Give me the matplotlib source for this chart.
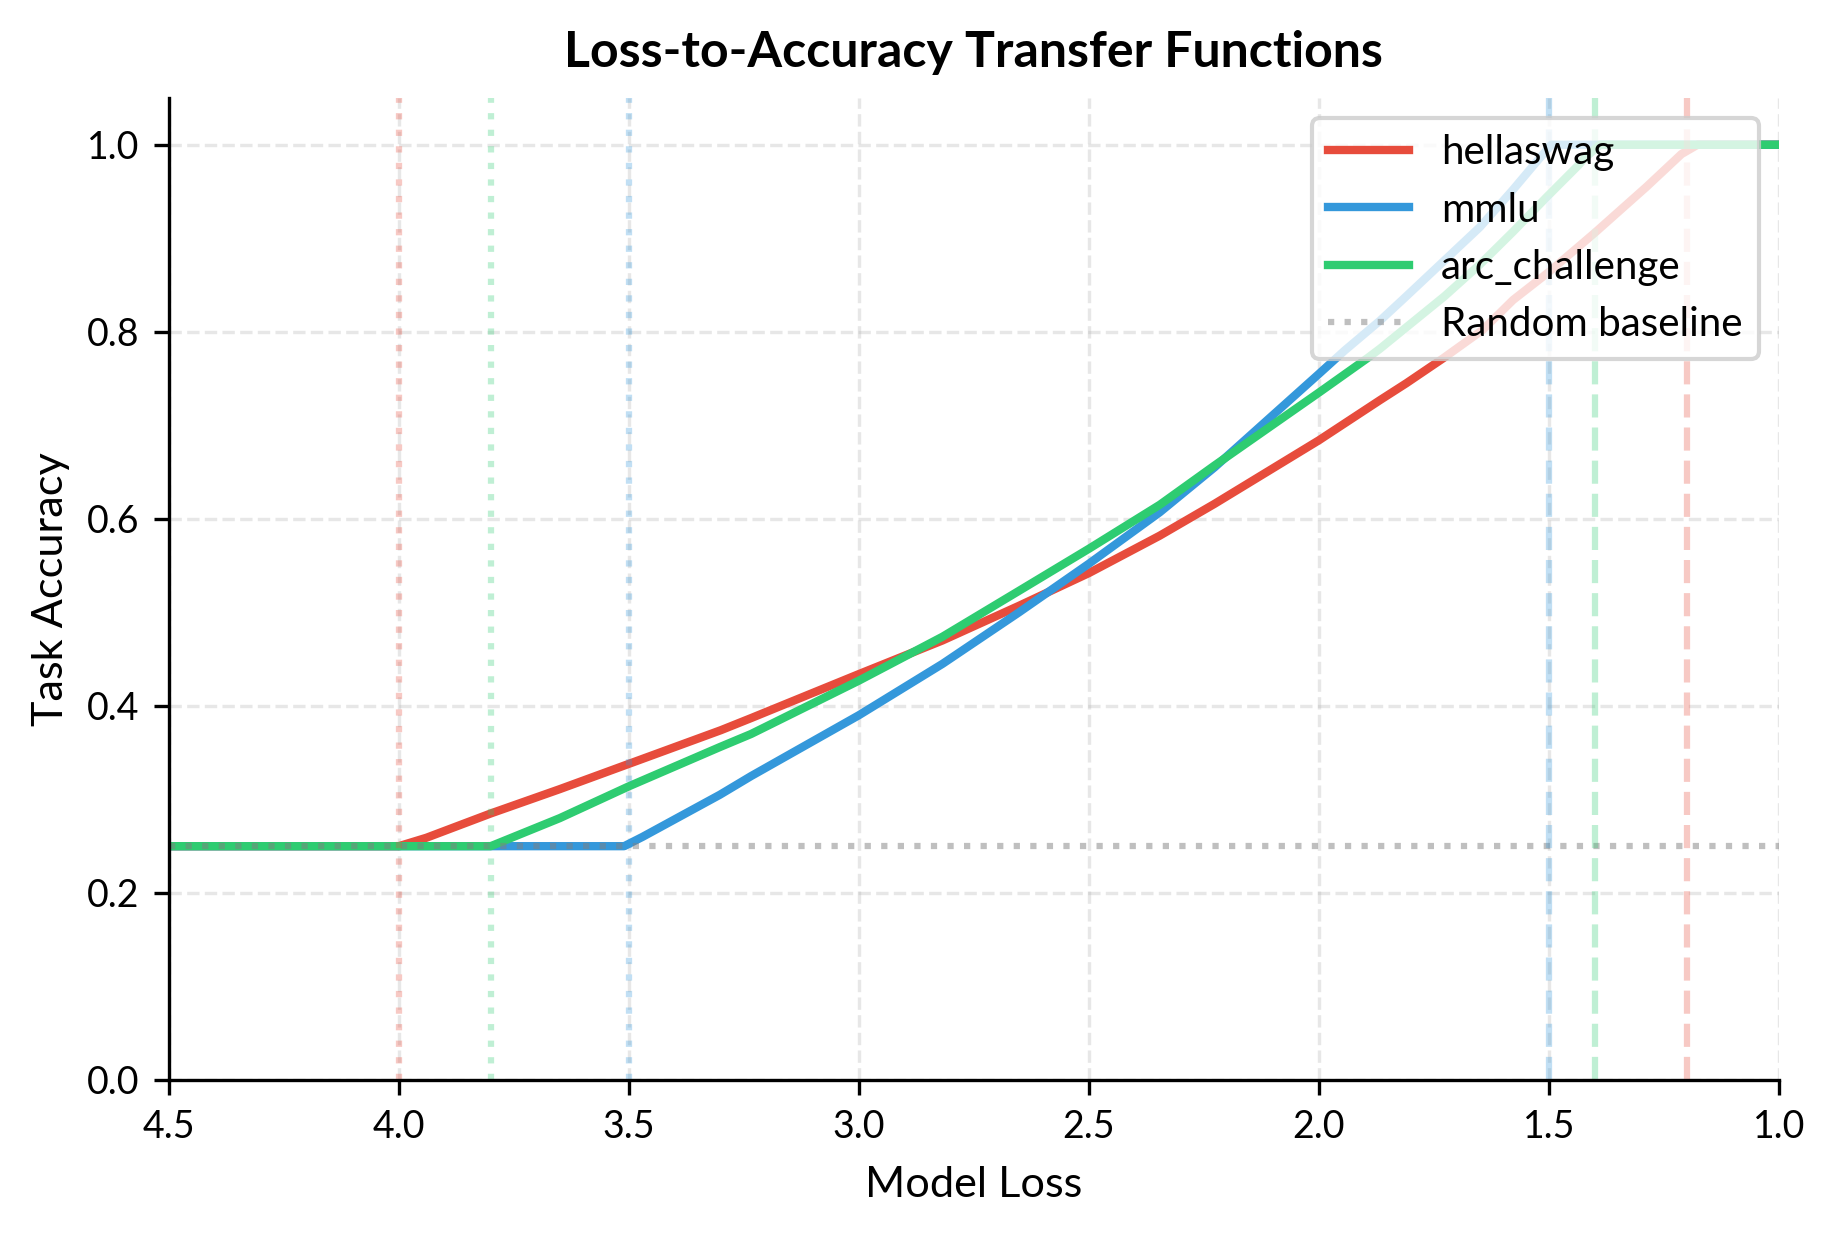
import numpy as np
import matplotlib
matplotlib.use("Agg")
import matplotlib.pyplot as plt

plt.rcParams['font.family'] = ['Lato', 'DejaVu Sans']

# --- Data ---
random_baseline = 0.25

hellaswag_loss = [4.5, 4.0, 3.94, 3.8, 3.65, 3.5, 3.3, 3.234, 3.0, 2.818, 2.652, 2.5,
                  2.346, 2.227, 2.0, 1.867, 1.81, 1.729, 1.644, 1.578, 1.5, 1.4,
                  1.288, 1.212, 1.177, 1.0]
hellaswag_acc = [0.25, 0.25, 0.259, 0.285, 0.311, 0.338, 0.374, 0.387, 0.434, 0.470, 0.507, 0.542,
                 0.582, 0.616, 0.684, 0.727, 0.745, 0.772, 0.802, 0.834, 0.864, 0.906,
                 0.955, 0.99, 1.0, 1.0]

mmlu_loss = [4.5, 3.51, 3.47, 3.302, 3.234, 3.0, 2.818, 2.652, 2.5, 2.346, 2.227, 2.0,
             1.944, 1.867, 1.81, 1.65, 1.578, 1.53, 1.495, 1.0]
mmlu_acc = [0.25, 0.25, 0.26, 0.305, 0.325, 0.390, 0.445, 0.50, 0.552, 0.607, 0.655, 0.755,
            0.78, 0.812, 0.838, 0.912, 0.952, 0.98, 1.0, 1.0]

arc_loss = [4.5, 3.8, 3.65, 3.5, 3.302, 3.234, 3.0, 2.818, 2.652, 2.5, 2.346, 2.227, 2.0,
            1.894, 1.867, 1.727, 1.65, 1.578, 1.505, 1.436, 1.424, 1.389, 1.0]
arc_acc = [0.25, 0.25, 0.280, 0.314, 0.356, 0.370, 0.427, 0.474, 0.523, 0.568, 0.615, 0.657, 0.735,
           0.772, 0.782, 0.838, 0.872, 0.907, 0.944, 0.978, 0.985, 1.0, 1.0]

tasks = ['hellaswag', 'mmlu', 'arc_challenge']
colors = ['#e74c3c', '#3498db', '#2ecc71']
emergence_loss = [4.0, 3.5, 3.8]    # dotted markers
saturation_loss = [1.2, 1.5, 1.4]   # dashed markers

curves = [(hellaswag_loss, hellaswag_acc), (mmlu_loss, mmlu_acc), (arc_loss, arc_acc)]

# --- Plot ---
fig = plt.figure(figsize=(1834 / 300, 1234 / 300), dpi=300)
ax = fig.add_axes([0.092, 0.1248, 0.878, 0.7958])

for name, color, (x, y) in zip(tasks, colors, curves):
    ax.plot(x, y, color=color, linewidth=2.0, label=name)

ax.axhline(random_baseline, color='gray', linestyle=':', linewidth=1.5, alpha=0.5,
           label='Random baseline')

for color, lo, hi in zip(colors, emergence_loss, saturation_loss):
    ax.axvline(lo, color=color, linestyle=':', linewidth=1.5, alpha=0.3)
    ax.axvline(hi, color=color, linestyle='--', linewidth=1.5, alpha=0.3)

ax.set_xlim(4.5, 1.0)
ax.set_ylim(0, 1.05)
ax.set_xticks(np.arange(4.5, 0.99, -0.5))
ax.set_yticks([0.0, 0.2, 0.4, 0.6, 0.8, 1.0])
ax.tick_params(labelsize=9)
ax.set_xlabel('Model Loss', fontsize=10.4, labelpad=5)
ax.set_ylabel('Task Accuracy', fontsize=10.4)
ax.set_title('Loss-to-Accuracy Transfer Functions', fontsize=12, fontweight='bold', pad=7.5)
ax.grid(True, linestyle='--', alpha=0.3)
ax.spines['top'].set_visible(False)
ax.spines['right'].set_visible(False)
ax.legend(loc='upper right', fontsize=9.7)

plt.savefig('out.png', dpi=300)
plt.close()
